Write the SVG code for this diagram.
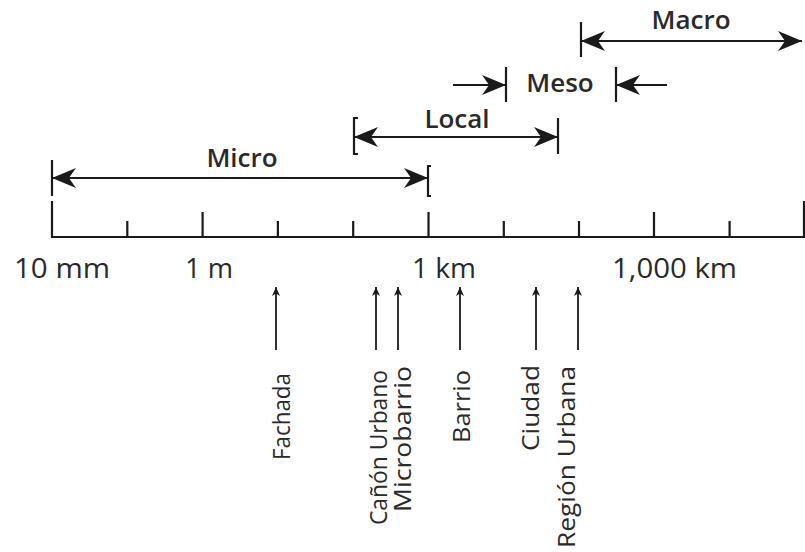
<svg xmlns="http://www.w3.org/2000/svg" width="805" height="552" viewBox="0 0 805 552">
  <style>
    .ln { stroke: #1a1a1a; stroke-width: 2.2; fill: none; }
    .thin { stroke: #1a1a1a; stroke-width: 1.8; fill: none; }
    .scale { font-family: "Open Sans", "Liberation Sans", sans-serif; font-weight: 600; font-size: 26px; fill: #2a2a2a; text-anchor: middle; }
    .axis { font-family: "Open Sans", "Liberation Sans", sans-serif; font-size: 28px; fill: #2a2a2a; }
    .item { font-family: "Open Sans", "Liberation Sans", sans-serif; font-size: 23px; fill: #2a2a2a; }
  </style>
  <defs>
    <marker id="head" viewBox="-26 -12 28 24" refX="0" refY="0" markerWidth="28" markerHeight="24" markerUnits="userSpaceOnUse" orient="auto-start-reverse">
      <path d="M0,0 L-24,-10 Q-19,-3 -17,0 Q-19,3 -24,10 Z" fill="#1a1a1a"/>
    </marker>
    <marker id="tip" viewBox="-10 -5 11 10" refX="0" refY="0" markerWidth="11" markerHeight="10" markerUnits="userSpaceOnUse" orient="auto">
      <path d="M0,0 L-9,-4 L-6.5,0 L-9,4 Z" fill="#1a1a1a"/>
    </marker>
  </defs>

  <!-- scale ranges -->
  <g id="micro">
    <line class="ln" x1="52" y1="160" x2="52" y2="196"/>
    <path class="ln" d="M431,166 H428 V196 H431"/>
    <line class="ln" x1="52" y1="178" x2="428" y2="178" marker-start="url(#head)" marker-end="url(#head)"/>
    <text class="scale" x="242" y="167">Micro</text>
  </g>
  <g id="local">
    <path class="ln" d="M358,118 H354 V154 H358"/>
    <line class="ln" x1="558" y1="118" x2="558" y2="154"/>
    <line class="ln" x1="354" y1="137" x2="558" y2="137" marker-start="url(#head)" marker-end="url(#head)"/>
    <text class="scale" x="457" y="128">Local</text>
  </g>
  <g id="meso">
    <line class="ln" x1="506" y1="67" x2="506" y2="102"/>
    <line class="ln" x1="616" y1="67" x2="616" y2="102"/>
    <line class="ln" x1="453" y1="85" x2="506" y2="85" marker-end="url(#head)"/>
    <line class="ln" x1="667" y1="85" x2="616" y2="85" marker-end="url(#head)"/>
    <text class="scale" x="560" y="92">Meso</text>
  </g>
  <g id="macro">
    <line class="ln" x1="581" y1="22" x2="581" y2="57"/>
    <line class="ln" x1="581" y1="41" x2="802" y2="41" marker-start="url(#head)" marker-end="url(#head)"/>
    <text class="scale" x="691" y="29">Macro</text>
  </g>

  <!-- logarithmic axis -->
  <g id="axis">
    <path class="ln" d="M52,201 V237 H804 V201"/>
    <path class="ln" d="M202.6,212 V237 M428.5,212 V237 M654,212 V237"/>
    <path class="ln" d="M127.3,221 V237 M277.9,221 V237 M353.2,221 V237 M503.8,221 V237 M579,221 V237 M729.6,221 V237"/>
    <text class="axis" x="14" y="278" textLength="96" lengthAdjust="spacingAndGlyphs">10 mm</text>
    <text class="axis" x="185" y="278" textLength="48" lengthAdjust="spacingAndGlyphs">1 m</text>
    <text class="axis" x="412" y="278" textLength="64" lengthAdjust="spacingAndGlyphs">1 km</text>
    <text class="axis" x="612" y="278" textLength="125" lengthAdjust="spacingAndGlyphs">1,000 km</text>
  </g>

  <!-- pointers from the axis to urban elements -->
  <g id="connectors">
    <line class="thin" x1="276" y1="350" x2="276" y2="287" marker-end="url(#tip)"/>
    <line class="thin" x1="376" y1="350" x2="376" y2="287" marker-end="url(#tip)"/>
    <line class="thin" x1="398" y1="350" x2="398" y2="287" marker-end="url(#tip)"/>
    <line class="thin" x1="460" y1="350" x2="460" y2="287" marker-end="url(#tip)"/>
    <line class="thin" x1="536" y1="350" x2="536" y2="287" marker-end="url(#tip)"/>
    <line class="thin" x1="578" y1="350" x2="578" y2="287" marker-end="url(#tip)"/>
  </g>

  <g id="fachada"><text class="item" transform="translate(290,460) rotate(-90)" textLength="87" lengthAdjust="spacingAndGlyphs">Fachada</text></g>
  <g id="canon-urbano"><text class="item" transform="translate(387,525) rotate(-90)" textLength="155" lengthAdjust="spacingAndGlyphs">Cañón Urbano</text></g>
  <g id="microbarrio"><text class="item" transform="translate(411,512) rotate(-90)" textLength="146" lengthAdjust="spacingAndGlyphs">Microbarrio</text></g>
  <g id="barrio"><text class="item" transform="translate(470,443) rotate(-90)" textLength="73" lengthAdjust="spacingAndGlyphs">Barrio</text></g>
  <g id="ciudad"><text class="item" transform="translate(539,451) rotate(-90)" textLength="86" lengthAdjust="spacingAndGlyphs">Ciudad</text></g>
  <g id="region-urbana"><text class="item" transform="translate(575,548) rotate(-90)" textLength="182" lengthAdjust="spacingAndGlyphs">Región Urbana</text></g>
</svg>
